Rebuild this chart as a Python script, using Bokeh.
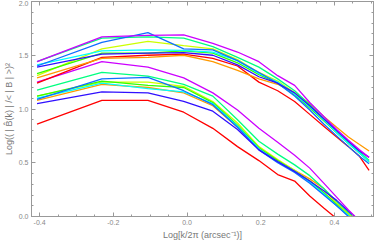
from bokeh.plotting import figure
from bokeh.models import Range1d, LinearAxis, FixedTicker, PrintfTickFormatter
from bokeh.embed import file_html
from bokeh.resources import INLINE

# log10 of wavenumber (k/2pi)
x = [-0.407, -0.231, -0.106, -0.009, 0.070, 0.137, 0.195, 0.246, 0.292, 0.333, 0.371, 0.406, 0.438, 0.468, 0.494]

# upper family of spectra
t_red     = [1.24, 1.48, 1.50, 1.51, 1.47, 1.40, 1.25, 1.17, 1.07, 0.95, 0.84, 0.74, 0.65, 0.56, 0.43]
t_orange  = [1.29, 1.47, 1.48, 1.50, 1.44, 1.36, 1.28, 1.23, 1.15, 1.05, 0.93, 0.83, 0.74, 0.67, 0.61]
t_yellow  = [1.31, 1.56, 1.63, 1.59, 1.56, 1.46, 1.34, 1.26, 1.15, 1.03, 0.91, 0.79, 0.69, 0.60, 0.52]
t_green   = [1.33, 1.52, 1.52, 1.54, 1.52, 1.43, 1.32, 1.24, 1.13, 1.01, 0.89, 0.78, 0.68, 0.59, 0.51]
t_spring  = [1.44, 1.66, 1.67, 1.66, 1.58, 1.48, 1.39, 1.28, 1.17, 1.04, 0.91, 0.79, 0.69, 0.60, 0.52]
t_cyan    = [1.41, 1.54, 1.55, 1.545, 1.53, 1.45, 1.33, 1.25, 1.14, 1.02, 0.90, 0.78, 0.68, 0.59, 0.51]
t_azure   = [1.40, 1.62, 1.71, 1.56, 1.55, 1.45, 1.34, 1.24, 1.12, 0.99, 0.86, 0.75, 0.65, 0.56, 0.49]
t_indigo  = [1.39, 1.51, 1.52, 1.525, 1.50, 1.41, 1.30, 1.24, 1.15, 1.03, 0.91, 0.80, 0.70, 0.61, 0.55]
t_magenta = [1.44, 1.67, 1.685, 1.69, 1.61, 1.53, 1.44, 1.31, 1.22, 1.06, 0.93, 0.81, 0.71, 0.62, 0.55]

# lower family of spectra
b_red     = [0.86, 1.08, 1.08, 0.97, 0.82, 0.65, 0.52, 0.39, 0.33, 0.19, 0.08, -0.02, -0.12, -0.20, -0.30]
b_orange  = [1.08, 1.23, 1.20, 1.15, 1.03, 0.83, 0.63, 0.52, 0.43, 0.35, 0.26, 0.12, 0.03, -0.06, -0.14]
b_yellow  = [1.12, 1.25, 1.25, 1.21, 1.07, 0.87, 0.65, 0.53, 0.43, 0.33, 0.22, 0.12, 0.02, -0.07, -0.15]
b_green   = [1.12, 1.26, 1.22, 1.20, 1.06, 0.85, 0.64, 0.52, 0.42, 0.33, 0.22, 0.11, 0.01, -0.08, -0.16]
b_spring  = [1.175, 1.34, 1.305, 1.23, 1.12, 0.90, 0.70, 0.58, 0.48, 0.38, 0.26, 0.14, 0.04, -0.05, -0.14]
b_cyan    = [1.10, 1.24, 1.19, 1.16, 1.05, 0.84, 0.63, 0.51, 0.42, 0.32, 0.21, 0.10, 0.01, -0.08, -0.16]
b_azure   = [1.09, 1.28, 1.295, 1.17, 1.04, 0.83, 0.62, 0.50, 0.41, 0.31, 0.20, 0.10, 0.00, -0.09, -0.17]
b_indigo  = [1.05, 1.16, 1.15, 1.07, 0.98, 0.81, 0.62, 0.51, 0.42, 0.33, 0.24, 0.15, 0.05, -0.04, -0.12]
b_magenta = [1.25, 1.44, 1.39, 1.29, 1.15, 0.99, 0.82, 0.69, 0.57, 0.45, 0.31, 0.18, 0.06, -0.04, -0.13]

colors = ["#ff0000", "#ff9900", "#ccff00", "#33ff00", "#00ff80", "#00ffff", "#0f6fff", "#3010ff", "#cc00ff"]
top = [t_red, t_orange, t_yellow, t_green, t_spring, t_cyan, t_azure, t_indigo, t_magenta]
bottom = [b_red, b_orange, b_yellow, b_green, b_spring, b_cyan, b_azure, b_indigo, b_magenta]

x_major = [-0.4, -0.2, 0.0, 0.2, 0.4]
x_minor = [-0.4 + 0.05 * i for i in range(19)]
y_major = [0.0, 0.5, 1.0, 1.5, 2.0]
y_minor = [0.1 * i for i in range(21)]

p = figure(width=374, height=242, output_backend="svg", toolbar_location=None,
           x_range=Range1d(-0.422, 0.506), y_range=Range1d(0, 2),
           min_border_left=20, min_border_right=1, min_border_top=1, min_border_bottom=0)
p.background_fill_color = "white"
p.border_fill_color = "white"
p.grid.visible = False
p.outline_line_color = "#999999"
p.outline_line_width = 1

for ys, c in zip(bottom, colors):
    p.line(x, ys, line_color=c, line_width=1.3)
for ys, c in zip(top, colors):
    p.line(x, ys, line_color=c, line_width=1.3)

def style(ax, labels=True):
    ax.axis_line_color = "#999999"
    ax.major_tick_line_color = "#999999"
    ax.minor_tick_line_color = "#999999"
    ax.major_tick_in = 4
    ax.major_tick_out = 0
    ax.minor_tick_in = 2
    ax.minor_tick_out = 0
    ax.major_label_text_font = "Liberation Sans"
    ax.major_label_text_font_size = "7px"
    ax.major_label_text_color = "#888888" if labels else None
    ax.major_label_standoff = 3
    ax.axis_label_text_font = "Liberation Sans"
    ax.axis_label_text_font_style = "normal"
    ax.axis_label_text_font_size = "9px"
    ax.axis_label_text_color = "#777777"
    ax.axis_label_standoff = 2

xt = FixedTicker(ticks=x_major, minor_ticks=x_minor)
yt = FixedTicker(ticks=y_major, minor_ticks=y_minor)

p.xaxis.ticker = xt
p.yaxis.ticker = yt
p.xaxis.formatter = PrintfTickFormatter(format="%.1f")
p.yaxis.formatter = PrintfTickFormatter(format="%.1f")
style(p.xaxis[0])
style(p.yaxis[0])
p.xaxis.axis_label = "Log[k/2\u03c0 (arcsec\u207b\u00b9)]"
p.yaxis.axis_label = "Log(( | B\u0302(k) | /< | B | >)\u00b2"

top_ax = LinearAxis(ticker=FixedTicker(ticks=x_major, minor_ticks=x_minor))
style(top_ax, labels=False)
top_ax.major_label_text_font_size = "0px"
top_ax.major_label_standoff = 0
p.add_layout(top_ax, "above")
right_ax = LinearAxis(ticker=FixedTicker(ticks=y_major, minor_ticks=y_minor))
style(right_ax, labels=False)
right_ax.major_label_text_font_size = "0px"
right_ax.major_label_standoff = 0
p.add_layout(right_ax, "right")

open("out.html", "w").write(file_html(p, INLINE))
